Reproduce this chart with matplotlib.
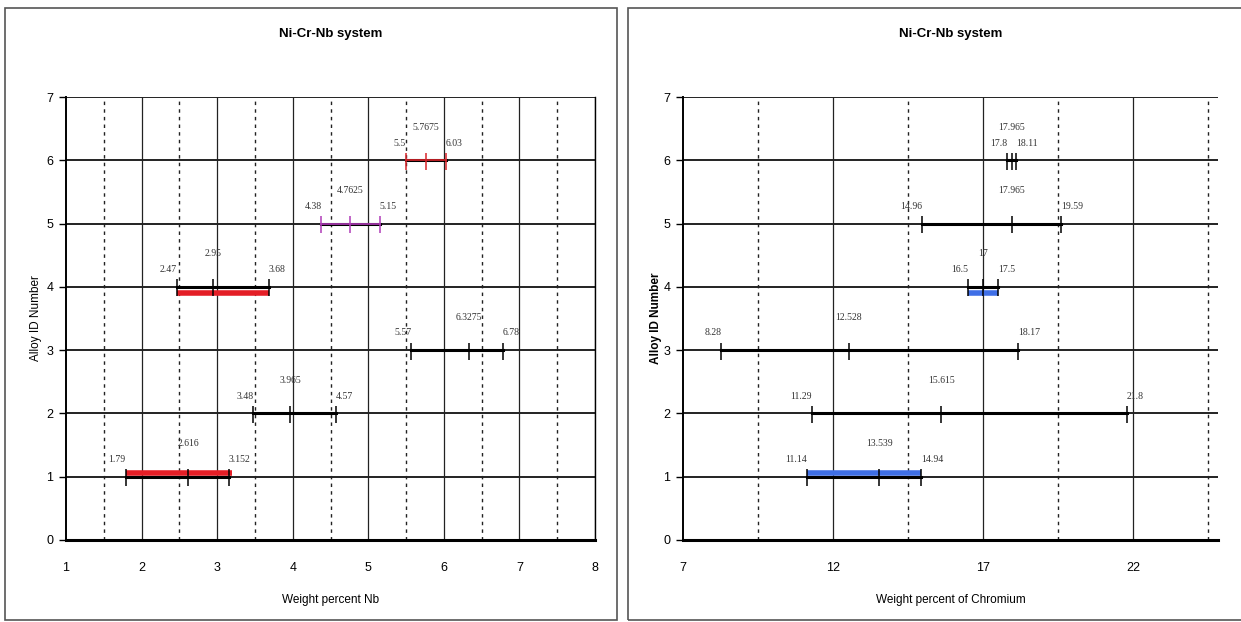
import numpy as np
import matplotlib
matplotlib.use("Agg")
from matplotlib import pyplot as plt
from matplotlib.patches import Rectangle

# alloy ids (same for both panels)
alloy_ids = [1, 2, 3, 4, 5, 6]

# Nb ranges: low, mid, high
nb_lo = [1.79, 3.48, 5.57, 2.47, 4.38, 5.5]
nb_mid = [2.616, 3.965, 6.3275, 2.95, 4.7625, 5.7675]
nb_hi = [3.152, 4.57, 6.78, 3.68, 5.15, 6.03]
nb_color = ['black', 'black', 'black', 'black', '#b03cb8', '#d8242a']

# Cr ranges: low, mid, high
cr_lo = [11.14, 11.29, 8.28, 16.5, 14.96, 17.8]
cr_mid = [13.539, 15.615, 12.528, 17, 17.965, 17.965]
cr_hi = [14.94, 21.8, 18.17, 17.5, 19.59, 18.11]
cr_color = ['black'] * 6

# thick highlight bars: (id, lo, hi)
nb_bars = [(1, 1.79, 3.2), (4, 2.47, 3.68)]
cr_bars = [(1, 11.14, 14.94), (4, 16.5, 17.5)]

plt.rcParams['font.family'] = ['Liberation Sans', 'DejaVu Sans']

fig = plt.figure(figsize=(12.41, 6.22), dpi=100)

# panel frames
fig.patches.append(Rectangle((5 / 1241, 2 / 622), 612 / 1241, 612 / 622,
                             transform=fig.transFigure, fill=False,
                             edgecolor='#555555', lw=1.2))
fig.patches.append(Rectangle((628 / 1241, 2 / 622), 620 / 1241, 612 / 622,
                             transform=fig.transFigure, fill=False,
                             edgecolor='#555555', lw=1.2))


def draw_panel(ax, lo, mid, hi, cols, bars, bar_col, xmin, xmax, major, title, xlabel):
    ax.set_xlim(xmin, xmax)
    ax.set_ylim(0, 7)
    # grid
    xs = np.arange(xmin, xmax + 1e-6, major / 2)
    for i, xv in enumerate(xs):
        if i == 0:
            continue
        if i % 2 == 0:
            ax.axvline(xv, color='#222222', lw=0.9, zorder=1)
        else:
            ax.axvline(xv, color='#222222', lw=1.0, ls=(0, (2.5, 3)), zorder=1)
    for yv in range(1, 8):
        ax.axhline(yv, color='#222222', lw=1.4, zorder=1)

    for y, a, m, b, c in zip(alloy_ids, lo, mid, hi, cols):
        ax.plot([a, b], [y, y], color='black', lw=2.2, zorder=3)
        if c != 'black':
            ax.plot([a, b], [y, y], color=c, lw=1.2, zorder=3)
        ax.vlines([a, m, b], y - 0.15, y + 0.12, color=c, lw=1.1, zorder=4)
        ax.text(a, y + 0.2, f'{a:g}', ha='right', va='bottom', fontsize=7,
                family='Liberation Serif', color='#333333')
        ax.text(m, y + 0.45, f'{m:g}', ha='center', va='bottom', fontsize=7,
                family='Liberation Serif', color='#333333')
        ax.text(b, y + 0.2, f'{b:g}', ha='left', va='bottom', fontsize=7,
                family='Liberation Serif', color='#333333')

    for y, a, b in bars:
        off = 0.06 if y == 1 else -0.1
        ax.plot([a, b], [y + off, y + off], color=bar_col, lw=4, zorder=2,
                solid_capstyle='butt')

    ax.set_xticks(np.arange(xmin, xmax + 1e-6, major))
    ax.set_yticks(range(0, 8))
    ax.tick_params(axis='x', length=0, pad=16, labelsize=9)
    ax.tick_params(axis='y', length=5, width=1, pad=4, labelsize=9)
    ax.spines['top'].set_visible(False)
    ax.spines['left'].set_linewidth(1.4)
    ax.spines['right'].set_linewidth(1.0)
    ax.spines['bottom'].set_linewidth(2.2)
    ax.set_xlabel(xlabel, fontsize=8.5, labelpad=14)
    ax.set_ylabel('Alloy ID Number', fontsize=8.5, labelpad=3)
    ax.set_title(title, fontsize=9.5, fontweight='bold', pad=43)


ax1 = fig.add_axes([66 / 1241, 82 / 622, 529 / 1241, 443 / 622])
draw_panel(ax1, nb_lo, nb_mid, nb_hi, nb_color, nb_bars, '#e41e26',
           1, 8, 1, 'Ni-Cr-Nb system', 'Weight percent Nb')

ax2 = fig.add_axes([683 / 1241, 82 / 622, 535 / 1241, 443 / 622])
draw_panel(ax2, cr_lo, cr_mid, cr_hi, cr_color, cr_bars, '#3f6fe6',
           7, 7 + 535 / 30, 5, 'Ni-Cr-Nb system', 'Weight percent of Chromium')
ax2.set_xticks([7, 12, 17, 22])
ax2.spines['right'].set_visible(False)
ax2.yaxis.label.set_fontweight('bold')
ax2.yaxis.labelpad = 1

fig.savefig('out.png', dpi=100)
